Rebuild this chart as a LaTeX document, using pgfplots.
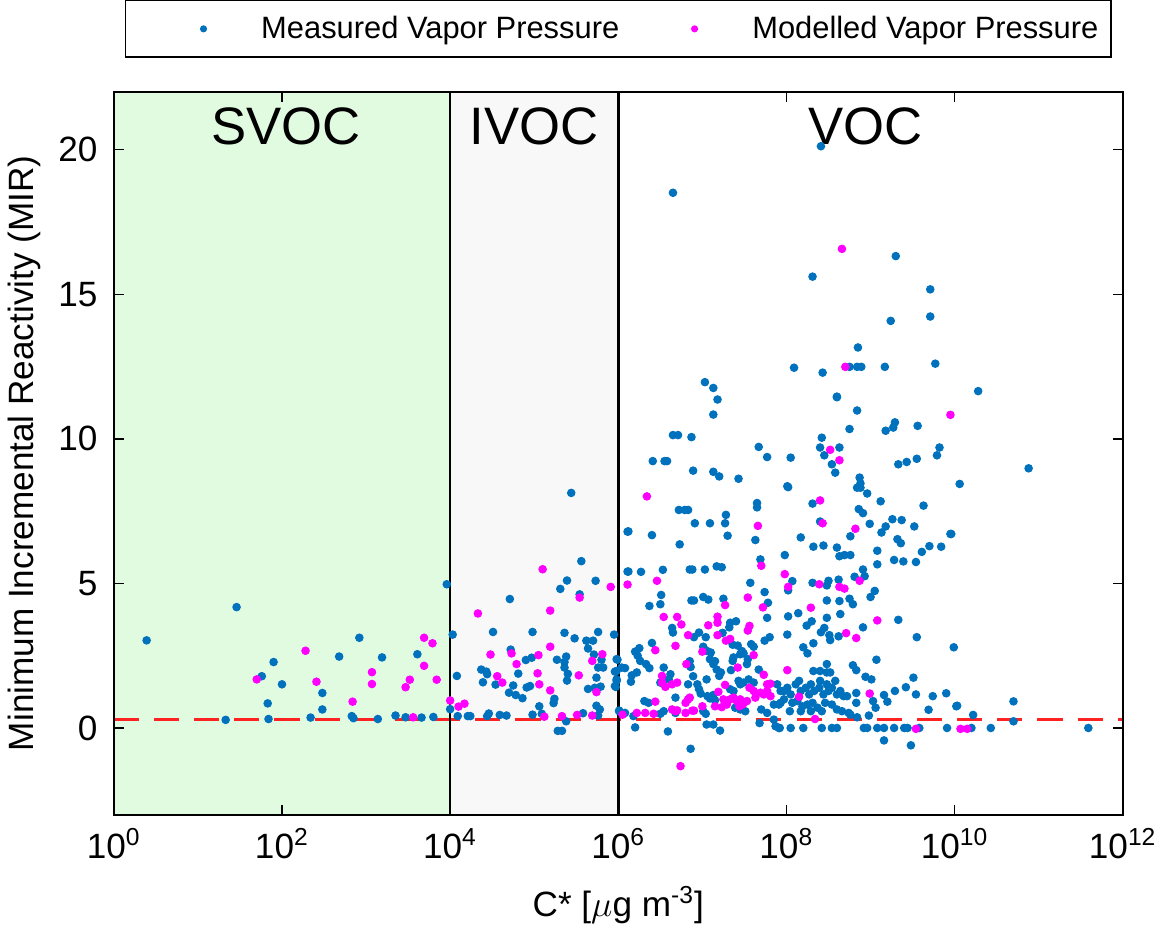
\documentclass[border=0pt]{standalone}
\usepackage{fontspec}
\setmainfont{Liberation Sans}
\usepackage{pgfplots}
\pgfplotsset{compat=1.18}
\definecolor{mblue}{HTML}{0072BD}
\definecolor{mmag}{HTML}{FF00FF}
\definecolor{svocfill}{HTML}{E1FBE1}
\definecolor{ivocfill}{HTML}{F8F8F8}
\definecolor{mred}{HTML}{FF2222}

% x values are log10(C*)
\begin{document}
\begin{tikzpicture}
\begin{axis}[
    scale only axis,
    width=402pt, height=288pt,
    xmin=0, xmax=12, ymin=-3, ymax=22,
    xtick={0,2,...,12},
    xticklabels={10\textsuperscript{0},10\textsuperscript{2},10\textsuperscript{4},10\textsuperscript{6},10\textsuperscript{8},10\textsuperscript{10},10\textsuperscript{12}},
    ytick={0,5,10,15,20},
    tick align=inside,
    major tick length=4pt,
    axis line style={line width=0.8pt},
    every tick/.style={black, line width=0.6pt},
    axis on top,
    font=\fontsize{14}{16}\selectfont,
    /pgf/number format/assume math mode=true,
    xticklabel style={yshift=-2pt},
    yticklabel style={xshift=-3pt},
    xlabel={C* [$\mu$g m\textsuperscript{-3}]},
    ylabel={Minimum Incremental Reactivity (MIR)},
    xlabel style={yshift=-4pt},
    legend columns=2,
    legend style={at={(0.5,1)}, anchor=south, yshift=13.6pt,
        draw=black, line width=0.6pt, inner xsep=3pt, inner ysep=4pt,
        font=\fontsize{12.3}{15}\selectfont,
        /tikz/every odd column/.append style={column sep=0pt}},
    legend image code/.code={\path[draw=none] (-28pt,0pt) -- (21pt,0pt);
        \draw[#1, only marks, mark size=1.1pt] plot coordinates {(0pt,0pt)};},
]
\fill[svocfill] (axis cs:0,-3) rectangle (axis cs:4,22);
\fill[ivocfill] (axis cs:4,-3) rectangle (axis cs:6,22);

\addplot[only marks, mark=*, mark size=1.5pt, color=mblue] coordinates {
(0.39,3.03) (1.46,4.18) (1.33,0.28) (1.76,1.79) (1.90,2.28) (1.83,0.85) (1.84,0.31)
(2.00,1.51) (2.34,0.36) (2.48,1.21) (2.48,0.64) (2.68,2.47) (2.92,3.12) (2.83,0.41)
(2.85,0.34) (3.19,2.44) (3.14,0.31) (3.35,0.43) (3.47,0.37) (3.61,2.55) (3.66,0.36)
(3.80,0.38) (3.96,4.97) (4.00,0.65) (4.03,3.23)
(5.44,8.13) (6.11,6.79) (6.11,5.41) (5.56,5.77) (5.39,5.10) (5.31,4.81) (5.73,5.09)
(5.54,4.62) (4.71,4.46) (4.51,3.32) (4.98,3.32) (5.36,3.29) (5.76,3.32) (5.95,3.23)
(5.48,3.10) (5.62,3.02) (5.70,3.02) (5.64,2.75) (4.72,2.71) (4.97,2.43) (4.90,2.35)
(5.27,2.36) (5.38,2.47) (5.36,2.28) (5.36,2.09) (5.71,2.54) (5.80,2.36) (5.76,2.09)
(5.82,2.09) (5.99,2.36) (4.37,2.02) (4.43,1.95) (4.44,1.86) (4.81,1.88) (5.40,1.87)
(4.08,1.80) (4.39,1.58) (4.54,1.50) (4.75,1.47) (5.39,1.64) (5.74,1.74) (4.91,1.40)
(4.95,1.45) (5.64,1.35) (5.72,1.39) (5.79,1.43) (4.70,1.22) (4.78,1.14) (4.86,1.03)
(5.24,1.01) (5.23,0.86) (4.09,0.41) (4.21,0.41) (4.24,0.41) (4.44,0.41) (4.46,0.50)
(4.59,0.45) (4.67,0.43) (4.98,0.46) (5.06,0.75) (5.09,0.49) (5.38,0.23) (5.28,-0.10)
(5.33,-0.10) (5.58,0.51) (5.74,0.77) (5.78,0.64) (5.76,0.43) (5.98,1.97) (5.98,1.63)
(5.97,1.42) (6.01,0.60)
(7.18,11.36) (7.13,10.84) (6.65,10.13) (6.71,10.13) (6.87,10.06) (6.41,9.23) (6.55,9.23)
(6.58,9.23) (6.89,8.90) (7.13,8.86) (7.20,8.70) (7.43,8.62) (7.67,9.72) (7.77,9.37)
(8.01,8.36) (6.72,7.54) (6.79,7.54) (6.83,7.54) (7.28,7.37) (6.91,7.08) (7.09,7.08)
(7.27,7.08) (7.30,6.65) (7.65,7.78) (7.65,7.63) (7.63,6.50) (6.12,6.80) (6.40,6.67)
(6.73,6.35) (7.69,5.83) (7.98,5.98) (6.12,5.41) (6.27,5.40) (6.53,5.47) (6.85,5.48)
(6.88,5.48) (7.03,5.48) (7.17,5.59) (7.23,5.56) (6.51,4.60) (6.50,4.28) (6.37,4.22)
(6.87,4.41) (6.90,4.41) (7.01,4.53) (7.07,4.44) (7.25,4.47) (7.57,5.02) (7.74,4.70)
(7.78,4.33) (7.77,3.81) (6.64,3.46) (6.65,3.30) (6.90,3.14) (6.96,3.30) (7.04,3.14)
(7.24,3.29) (7.32,3.48) (7.33,3.64) (7.40,3.69) (7.36,2.88) (7.42,2.85) (7.58,2.90)
(7.61,2.81) (7.74,3.02) (7.80,3.14) (6.40,2.94) (6.20,2.64) (6.25,2.76) (6.23,2.50)
(6.26,2.32) (6.33,2.21) (6.37,2.07) (5.98,2.38) (6.04,2.09) (6.08,2.07) (5.96,1.95)
(5.98,1.68) (5.96,1.45) (6.16,1.82) (6.15,1.60) (6.22,1.92) (6.54,2.09) (6.62,1.86)
(6.60,1.68) (6.50,1.57) (6.85,2.31) (6.86,2.11) (6.89,1.79) (6.83,1.51) (7.01,2.81)
(7.05,2.67) (7.10,2.61) (7.09,2.38) (7.13,2.21) (7.15,2.31) (7.17,2.02) (7.22,1.92)
(7.20,1.80) (7.05,1.68) (6.94,1.51) (6.96,1.34) (6.98,1.19) (7.34,2.00) (7.37,2.44)
(7.36,2.32) (7.45,2.55) (7.47,2.66) (7.49,2.58) (7.54,2.38) (7.53,2.21) (7.67,2.02)
(7.43,1.63) (7.45,1.51) (7.49,1.57) (7.55,1.68) (7.61,1.57) (7.33,1.34) (7.37,1.28)
(7.06,1.10) (7.09,1.02) (7.13,1.14) (7.15,0.96) (6.68,1.05) (6.31,0.93) (6.36,0.87)
(6.54,0.58) (6.01,0.58) (6.08,0.52) (6.18,0.41) (6.20,0.02) (6.50,0.49) (6.59,-0.12)
(6.68,0.52) (6.86,-0.72) (7.01,0.58) (7.04,0.49) (7.05,0.12) (7.13,0.12) (7.21,-0.09)
(7.39,0.70) (7.45,0.64) (7.51,0.58) (7.68,0.17) (7.70,0.64) (7.77,0.52) (7.85,0.29)
(7.87,0.06) (7.92,0.00) (7.85,0.81) (7.93,0.87) (7.93,1.28) (7.97,1.28)
(8.60,11.44) (8.84,10.98) (8.75,10.34) (9.18,10.28) (9.27,10.39) (9.29,10.57) (9.56,10.45)
(9.82,9.70) (9.79,9.43) (9.33,9.12) (9.43,9.20) (9.55,9.31) (8.42,10.04) (8.40,9.70)
(8.45,9.43) (8.63,9.70) (8.54,9.12) (8.58,8.83) (8.05,9.35) (8.02,8.33) (8.87,8.66)
(8.88,8.46) (8.84,8.31) (8.88,8.31) (8.96,8.11) (9.12,7.84) (9.63,7.69) (8.31,7.76)
(8.40,7.14) (8.86,7.57) (8.91,7.43) (8.99,7.06) (8.76,6.63) (8.17,6.59) (8.32,6.27)
(8.44,6.31) (8.60,6.24) (8.63,5.94) (8.69,5.98) (8.76,5.98) (9.13,6.76) (9.18,6.97)
(9.26,7.22) (9.37,7.19) (9.52,6.97) (9.32,6.53) (9.36,6.39) (9.70,6.29) (9.84,6.27)
(9.61,6.09) (9.95,6.71) (9.08,6.13) (9.08,5.66) (9.28,5.81) (9.39,5.76) (9.54,5.74)
(8.91,5.48) (8.93,5.25) (8.81,5.23) (8.02,4.76) (8.07,5.08) (8.31,5.02) (8.48,4.93)
(8.50,5.09) (8.62,5.13) (8.48,4.41) (8.63,4.39) (8.75,4.47) (8.79,4.28) (9.00,4.53)
(9.05,4.74) (8.02,3.86) (8.14,3.97) (8.30,3.69) (8.24,3.54) (8.48,3.81) (8.64,3.94)
(9.33,3.74) (8.41,3.31) (8.45,3.46) (8.51,3.21) (8.52,3.04) (8.62,3.17) (8.91,3.48)
(8.01,3.23) (9.55,3.14) (9.99,2.79) (8.20,2.79) (8.25,2.58) (8.32,2.93) (9.07,2.36)
(8.48,2.21) (8.79,2.17) (8.83,2.00) (8.32,1.97) (8.40,1.97) (8.48,1.92) (8.52,1.92)
(8.94,1.77) (9.01,1.68) (9.51,1.74)
(7.89,1.51) (7.95,1.28) (8.01,1.39) (8.05,1.16) (8.11,1.51) (8.15,1.63) (8.17,1.28)
(8.23,1.39) (8.27,1.16) (8.29,1.51) (8.33,1.28) (8.39,1.39) (8.40,1.63) (8.44,1.16)
(8.48,1.51) (8.50,1.28) (8.54,1.39) (8.58,1.63) (8.60,1.16) (8.64,1.28) (8.68,1.10)
(8.72,1.10) (7.97,0.99) (8.07,0.87) (8.13,0.93) (8.19,0.75) (8.25,0.81) (8.31,0.87)
(8.37,0.70) (8.46,0.87) (8.54,0.81) (8.60,0.64) (8.66,0.58) (8.74,0.52) (7.91,0.81)
(8.04,0.58) (8.17,0.58) (8.29,0.58) (8.42,0.58)
(9.03,0.93) (9.06,0.70) (9.16,1.14) (9.20,0.91) (9.29,1.28) (9.42,1.41) (9.54,1.16)
(9.74,1.10) (9.90,1.20) (9.69,0.63) (10.02,0.75) (8.83,1.21) (8.83,0.87) (8.98,0.43)
(8.76,0.46) (8.84,0.37)
(7.91,0.00) (8.05,0.00) (8.20,0.00) (8.42,0.00) (8.54,0.00) (8.60,0.00) (8.92,0.00)
(8.96,0.00) (9.08,0.00) (9.16,0.00) (9.28,0.00) (9.40,0.00) (9.44,0.00) (9.58,0.00)
(9.91,0.00) (9.16,-0.43) (9.48,-0.60)
(10.88,8.98) (10.06,8.44) (9.96,6.71) (10.03,0.77) (10.22,0.45) (10.70,0.92) (10.70,0.23)
(10.20,0.00) (10.43,0.00) (11.59,0.00)
(8.41,20.12) (6.65,18.51) (9.30,16.32) (8.31,15.61) (9.71,15.17) (9.71,14.23) (9.24,14.08)
(8.85,13.16) (8.09,12.46) (8.43,12.29) (8.75,12.49) (8.84,12.49) (8.89,12.49) (9.17,12.49)
(9.77,12.60) (7.03,11.96) (7.13,11.76) (8.60,11.46) (10.28,11.65)
};
\addlegendentry{Measured Vapor Pressure}

\addplot[only marks, mark=*, mark size=1.5pt, color=mmag] coordinates {
(1.70,1.68) (2.28,2.67) (2.41,1.60) (2.84,0.91) (3.07,1.93) (3.07,1.52) (3.47,1.41)
(3.52,1.67) (3.56,0.37) (3.69,3.12) (3.79,2.93) (3.69,2.15) (3.84,1.67) (4.00,0.95)
(5.10,5.49) (6.11,4.96) (5.91,4.88) (5.54,4.51) (4.33,3.96) (5.19,4.06) (5.19,2.81)
(4.73,2.58) (4.48,2.54) (5.05,2.52) (5.81,2.55) (5.69,2.32) (4.79,2.21) (5.04,1.89)
(5.53,1.82) (4.56,1.79) (4.62,1.57) (5.06,1.51) (5.74,1.24) (5.19,1.30) (4.10,0.74)
(4.17,0.84) (5.12,0.39) (5.33,0.41) (5.51,0.45) (5.69,0.43) (6.05,0.46)
(6.34,8.01) (7.66,6.99) (7.70,5.61) (7.98,5.32) (6.46,5.09) (7.27,4.25) (7.54,4.51)
(7.72,4.17) (6.54,3.84) (6.70,3.84) (6.75,3.58) (6.83,3.21) (7.07,3.55) (7.18,3.85)
(7.18,3.64) (7.18,3.21) (7.28,3.02) (7.33,3.08) (7.54,3.37) (7.56,3.53) (7.61,2.52)
(6.68,2.84) (6.44,2.69) (6.52,1.80) (6.52,1.57) (6.56,1.42) (6.64,1.51) (6.70,1.57)
(6.81,2.21) (7.00,2.64) (7.27,1.49) (7.42,2.09) (7.73,1.84) (7.77,1.51) (7.81,1.53)
(7.56,1.39) (7.19,1.25) (7.69,1.22) (7.73,1.16) (7.77,1.28) (7.81,1.10) (7.61,1.28)
(7.63,1.05) (7.25,0.99) (7.29,0.87) (7.33,0.99) (7.37,1.05) (7.41,0.93) (7.45,0.99)
(7.49,0.87) (7.53,0.93) (7.44,0.75) (7.48,0.81) (6.83,0.99) (6.85,1.05) (6.80,0.87)
(6.44,0.91) (6.64,0.64) (6.68,0.58) (6.70,0.61) (6.42,0.49) (6.32,0.52) (6.22,0.52)
(6.80,0.52) (6.88,0.60) (6.90,0.60) (6.74,-1.32) (7.00,0.75) (7.15,0.75) (7.23,0.72)
(7.29,0.81)
(9.95,10.83) (8.52,9.62) (8.63,9.26) (8.40,7.87) (8.43,7.08) (8.82,6.89) (8.87,5.09)
(8.02,4.88) (8.39,4.97) (8.63,4.88) (8.69,4.82) (8.29,4.16) (9.08,3.72) (8.71,3.28)
(8.83,3.11) (8.01,2.00) (8.15,1.08) (8.99,1.19) (8.34,0.31) (9.54,-0.03)
(10.07,-0.03) (10.15,-0.03) (8.66,16.57) (8.70,12.49)
};
\addlegendentry{Modelled Vapor Pressure}

\addplot[mred, line width=1pt, dash pattern=on 10pt off 6pt, forget plot] coordinates {(0,0.3) (12,0.3)};
\draw[black, line width=1pt] (axis cs:4,-3) -- (axis cs:4,22);
\draw[black, line width=1pt] (axis cs:6,-3) -- (axis cs:6,22);

\node[font=\fontsize{21}{24}\selectfont] at (axis cs:2.05,20.8) {SVOC};
\node[font=\fontsize{21}{24}\selectfont] at (axis cs:5,20.8) {IVOC};
\node[font=\fontsize{21}{24}\selectfont] at (axis cs:8.94,20.8) {VOC};
\end{axis}
\end{tikzpicture}
\end{document}
